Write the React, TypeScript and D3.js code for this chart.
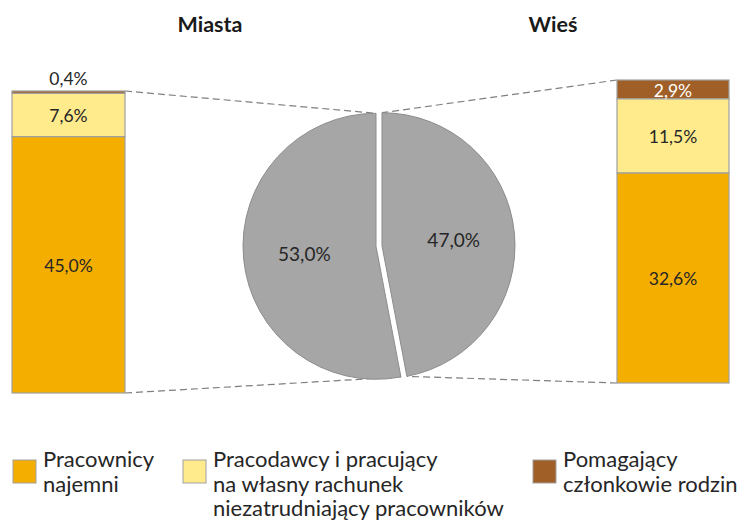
import * as d3 from "d3";

// ---- data ----
const SLICE_NAMES = ["Miasta", "Wieś"];
const SLICE_VALUES = [53.0, 47.0];
const SLICE_LABELS = ["53,0%", "47,0%"];

const CATEGORIES = [
  ["Pracownicy", "najemni"],
  ["Pracodawcy i pracujący", "na własny rachunek", "niezatrudniający pracowników"],
  ["Pomagający", "członkowie rodzin"],
];
const MIASTA_VALUES = [45.0, 7.6, 0.4];
const MIASTA_LABELS = ["45,0%", "7,6%", "0,4%"];
const WIES_VALUES = [32.6, 11.5, 2.9];
const WIES_LABELS = ["32,6%", "11,5%", "2,9%"];

const COLORS = ["#f4ae00", "#ffea8c", "#9f5f27"];
const PIE_COLOR = "#a6a6a6";
const FONT = "Lato, 'Open Sans', sans-serif";
const TEXT = "#262626";

const W = 739;
const H = 522;

const PIE = { cx: 379, cy: 246, r: 133, explode: 3 };
const LEFT_BAR = { x0: 12, x1: 125, top: 91, bottom: 393 };
const RIGHT_BAR = { x0: 617, x1: 729, top: 80, bottom: 383 };

type Seg = { y0: number; y1: number; value: number; label: string; color: string };

function stack(values: number[], labels: string[], bar: typeof LEFT_BAR): Seg[] {
  const total = d3.sum(values);
  const y = d3.scaleLinear().domain([0, total]).range([bar.bottom, bar.top]);
  let acc = 0;
  return values.map((v, i) => {
    const s = { y0: y(acc), y1: y(acc + v), value: v, label: labels[i], color: COLORS[i] };
    acc += v;
    return s;
  });
}

function Bar({ bar, segs, whiteTop }: { bar: typeof LEFT_BAR; segs: Seg[]; whiteTop: boolean }) {
  const cx = (bar.x0 + bar.x1) / 2;
  return (
    <g>
      {segs.map((s, i) => (
        <rect
          key={i}
          x={bar.x0}
          y={s.y1}
          width={bar.x1 - bar.x0}
          height={s.y0 - s.y1}
          fill={s.color}
          stroke="#a0a0a0"
          strokeWidth={1.2}
        />
      ))}
      {segs.map((s, i) => {
        const h = s.y0 - s.y1;
        const inside = h > 14;
        const y = inside ? (s.y0 + s.y1) / 2 : s.y1 - 13;
        const fill = i === 2 && whiteTop ? "#ffffff" : TEXT;
        return (
          <text
            key={i}
            x={cx}
            y={y}
            dy="0.42em"
            textAnchor="middle"
            fontSize={17.5}
            fontFamily={FONT}
            fill={fill}
          >
            {s.label}
          </text>
        );
      })}
    </g>
  );
}

export default function App() {
  const total = d3.sum(SLICE_VALUES);
  const start = (-2 * Math.PI * SLICE_VALUES[0]) / total;
  const pie = d3
    .pie<number>()
    .sort(null)
    .startAngle(start)
    .endAngle(start + 2 * Math.PI)(SLICE_VALUES);
  const arc = d3.arc<d3.PieArcDatum<number>>().innerRadius(0).outerRadius(PIE.r);
  const labelArc = d3.arc<d3.PieArcDatum<number>>().innerRadius(72).outerRadius(72);

  const offsets = pie.map(p => {
    const a = (p.startAngle + p.endAngle) / 2;
    return [PIE.explode * Math.sin(a), -PIE.explode * Math.cos(a)];
  });
  const pointOn = (i: number, angle: number) => [
    PIE.cx + offsets[i][0] + PIE.r * Math.sin(angle),
    PIE.cy + offsets[i][1] - PIE.r * Math.cos(angle),
  ];

  // connector endpoints on slice edges
  const leftTop = pointOn(0, 0);
  const leftBottom = pointOn(0, pie[0].startAngle + 2 * Math.PI);
  const rightTop = pointOn(1, 0);
  const rightBottom = pointOn(1, pie[1].endAngle);

  const leftSegs = stack(MIASTA_VALUES, MIASTA_LABELS, LEFT_BAR);
  const rightSegs = stack(WIES_VALUES, WIES_LABELS, RIGHT_BAR);

  const legendX = [13, 183, 533];

  return (
    <svg width={W} height={H} style={{ position: "absolute", left: 0, top: 0 }}>
      <rect width={W} height={H} fill="#ffffff" />

      {/* titles */}
      <text x={210} y={32} textAnchor="middle" fontSize={21.5} fontWeight="bold" fontFamily={FONT} fill="#1a1a1a">
        {SLICE_NAMES[0]}
      </text>
      <text x={553} y={32} textAnchor="middle" fontSize={21.5} fontWeight="bold" fontFamily={FONT} fill="#1a1a1a">
        {SLICE_NAMES[1]}
      </text>

      {/* connectors */}
      <g stroke="#7f7f7f" strokeWidth={1.2} strokeDasharray="7,4" fill="none">
        <line x1={LEFT_BAR.x1} y1={LEFT_BAR.top} x2={leftTop[0]} y2={leftTop[1]} />
        <line x1={LEFT_BAR.x1} y1={LEFT_BAR.bottom} x2={leftBottom[0]} y2={leftBottom[1]} />
        <line x1={RIGHT_BAR.x0} y1={RIGHT_BAR.top} x2={rightTop[0]} y2={rightTop[1]} />
        <line x1={RIGHT_BAR.x0} y1={RIGHT_BAR.bottom} x2={rightBottom[0]} y2={rightBottom[1]} />
      </g>

      {/* pie */}
      {pie.map((p, i) => (
        <g key={i} transform={`translate(${PIE.cx + offsets[i][0]},${PIE.cy + offsets[i][1]})`}>
          <path d={arc(p) ?? ""} fill={PIE_COLOR} stroke="#8c8c8c" strokeWidth={1} />
          <text
            x={labelArc.centroid(p)[0]}
            y={labelArc.centroid(p)[1]}
            dy="0.4em"
            textAnchor="middle"
            fontSize={19}
            fontFamily={FONT}
            fill={TEXT}
          >
            {SLICE_LABELS[i]}
          </text>
        </g>
      ))}

      {/* bars */}
      <Bar bar={LEFT_BAR} segs={leftSegs} whiteTop={false} />
      <Bar bar={RIGHT_BAR} segs={rightSegs} whiteTop={true} />

      {/* legend */}
      {CATEGORIES.map((lines, i) => (
        <g key={i}>
          <rect x={legendX[i]} y={460} width={23} height={23} fill={COLORS[i]} stroke="#a0a0a0" strokeWidth={1} />
          <text fontSize={22} fontFamily={FONT} fill={TEXT}>
            {lines.map((l, j) => (
              <tspan key={j} x={legendX[i] + 30} y={467 + j * 24.5}>
                {l}
              </tspan>
            ))}
          </text>
        </g>
      ))}
    </svg>
  );
}
